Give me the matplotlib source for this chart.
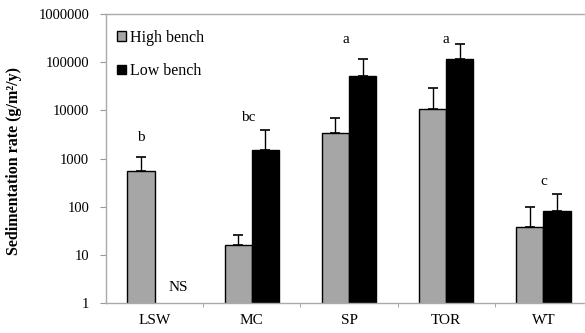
import matplotlib
matplotlib.use("Agg")
import matplotlib.pyplot as plt
import numpy as np

plt.rcParams['font.family'] = ['Liberation Serif', 'DejaVu Serif']

sites = ["LSW", "MC", "SP", "TOR", "WT"]
high_bench = [556, 16, 3410, 10900, 38]
high_err = [528, 10, 3360, 17500, 62]
low_bench = [np.nan, 1473, 51000, 113800, 82]
low_err = [np.nan, 2400, 68000, 119000, 101]
letters = ["b", "bc", "a", "a", "c"]
letter_y = [2760, 7200, 300000, 300000, 340]

fig = plt.figure(figsize=(5.85, 3.33), dpi=100)
ax = fig.add_axes([106 / 585, 30 / 333, (592 - 106) / 585, (303 - 14) / 333])

x = np.arange(len(sites))
w = 0.28
grey = "#a6a6a6"
ax.bar(x - w / 2, high_bench, width=w, color=grey, edgecolor="black", linewidth=1.0,
       label="High bench", zorder=2)
ax.errorbar(x - w / 2, high_bench, yerr=[np.zeros(len(sites)), high_err], fmt="none",
            ecolor="black", elinewidth=1.0, capsize=3.5, capthick=1.2, zorder=3)
ax.bar(x + w / 2, low_bench, width=w, color="black", edgecolor="black", linewidth=1.0,
       label="Low bench", zorder=2)
ax.errorbar(x + w / 2, low_bench, yerr=[np.zeros(len(sites)), low_err], fmt="none",
            ecolor="black", elinewidth=1.0, capsize=3.5, capthick=1.2, zorder=3)

ax.set_yscale("log")
ax.set_ylim(1, 1e6)
ax.set_xlim(-0.5, 4.5)
yt = [1, 10, 100, 1000, 10000, 100000, 1000000]
ax.set_yticks(yt)
ax.set_yticklabels([str(v) for v in yt], fontsize=10.5)
ax.yaxis.set_minor_locator(matplotlib.ticker.NullLocator())
ax.set_xticks(x)
ax.set_xticklabels(sites, fontsize=11)
ax.set_xticks(np.arange(0.5, 4.5, 1.0), minor=True)
ax.tick_params(axis="x", which="major", length=0, pad=8)
ax.tick_params(axis="x", which="minor", length=3, color="#999999", direction="out")
ax.tick_params(axis="y", which="major", length=4, color="#999999", direction="out", pad=8)

for s in ["left", "bottom", "top"]:
    ax.spines[s].set_color("#aaaaaa")
    ax.spines[s].set_linewidth(1.0)
ax.spines["right"].set_visible(False)

# significance letters for each site
letter_x = [0 - w / 2, 1 - 0.04, 2 - 0.03, 3, 4]
for lx, lab, ly in zip(letter_x, letters, letter_y):
    ax.text(lx, ly, lab, ha="center", va="center", fontsize=11)
ax.text(0.24, 2.1, "NS", ha="center", va="center", fontsize=11)

ax.set_ylabel("Sedimentation rate (g/m²/y)", fontsize=11.5, fontweight="bold")
ax.yaxis.set_label_coords(-0.172, 0.49)

ax.legend(loc="upper left", bbox_to_anchor=(0.0, 0.985), frameon=False, fontsize=11.5,
          handlelength=0.55, handleheight=0.55, handletextpad=0.25, labelspacing=1.1,
          borderaxespad=0.4, borderpad=0.3)

fig.savefig("out.png", dpi=100)
